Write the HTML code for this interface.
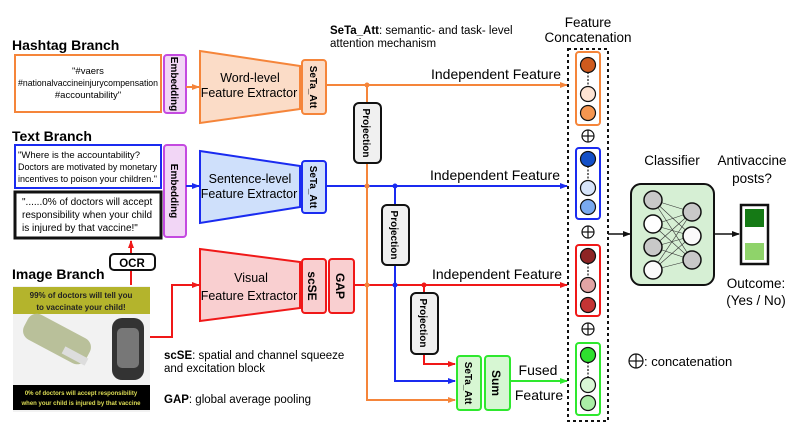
<!DOCTYPE html>
<html><head><meta charset="utf-8"><style>
body{margin:0;background:#fff}
svg{display:block;font-family:"Liberation Sans",sans-serif}
</style></head><body>
<svg width="800" height="431" viewBox="0 0 800 431" xmlns="http://www.w3.org/2000/svg">
<defs>
<marker id="ao" markerWidth="8" markerHeight="8" refX="7" refY="4" orient="auto" markerUnits="userSpaceOnUse"><path d="M0,1 L8,4 L0,7 z" fill="#f5853a"/></marker>
<marker id="ab" markerWidth="8" markerHeight="8" refX="7" refY="4" orient="auto" markerUnits="userSpaceOnUse"><path d="M0,1 L8,4 L0,7 z" fill="#1a2bf0"/></marker>
<marker id="ar" markerWidth="8" markerHeight="8" refX="7" refY="4" orient="auto" markerUnits="userSpaceOnUse"><path d="M0,1 L8,4 L0,7 z" fill="#f01818"/></marker>
<marker id="ag" markerWidth="8" markerHeight="8" refX="7" refY="4" orient="auto" markerUnits="userSpaceOnUse"><path d="M0,1 L8,4 L0,7 z" fill="#2ee82e"/></marker>
<marker id="ak" markerWidth="8" markerHeight="8" refX="7" refY="4" orient="auto" markerUnits="userSpaceOnUse"><path d="M0,1 L8,4 L0,7 z" fill="#111"/></marker>
</defs>

<text x="12" y="50" font-size="14" font-weight="bold">Hashtag Branch</text>
<text x="12" y="141" font-size="14" font-weight="bold">Text Branch</text>
<text x="12" y="279" font-size="14" font-weight="bold">Image Branch</text>

<rect x="15" y="55" width="146" height="57" fill="#fff" stroke="#f5853a" stroke-width="2"/>
<text font-size="9.5" text-anchor="middle"><tspan x="88" y="74">"#vaers</tspan><tspan x="88" y="86" textLength="140" lengthAdjust="spacingAndGlyphs">#nationalvaccineinjurycompensation</tspan><tspan x="88" y="98">#accountability"</tspan></text>
<rect x="164" y="55" width="22" height="58" rx="3" fill="#f2d6f6" stroke="#c44ae0" stroke-width="2"/>
<text transform="translate(171,84) rotate(90)" font-size="10" font-weight="bold" text-anchor="middle">Embedding</text>
<line x1="186" y1="87" x2="199" y2="87" stroke="#f5853a" stroke-width="2" marker-end="url(#ao)"/>
<polygon points="200,51 300,66 300,109 200,123" fill="#fbdcc7" stroke="#f5853a" stroke-width="2"/>
<text font-size="12.5" text-anchor="middle"><tspan x="250" y="82">Word-level</tspan><tspan x="249" y="97">Feature Extractor</tspan></text>
<rect x="302" y="60" width="24" height="54" rx="3" fill="#fbdcc7" stroke="#f5853a" stroke-width="2"/>
<text transform="translate(310,87) rotate(90)" font-size="10" font-weight="bold" text-anchor="middle">SeTa_Att</text>

<rect x="15" y="145" width="146" height="43" fill="#fff" stroke="#1a2bf0" stroke-width="2"/>
<text font-size="9.5"><tspan x="18" y="158" textLength="122" lengthAdjust="spacingAndGlyphs">"Where is the accountability?</tspan><tspan x="18" y="170" textLength="139" lengthAdjust="spacingAndGlyphs">Doctors are motivated by monetary</tspan><tspan x="18" y="182" textLength="139" lengthAdjust="spacingAndGlyphs">incentives to poison your children."</tspan></text>
<rect x="15" y="192" width="146" height="46" fill="#fff" stroke="#111" stroke-width="3"/>
<text font-size="10"><tspan x="22" y="205">"......0% of doctors will accept</tspan><tspan x="22" y="218">responsibility when your child</tspan><tspan x="22" y="231">is injured by that vaccine!"</tspan></text>
<rect x="164" y="145" width="22" height="92" rx="3" fill="#f2d6f6" stroke="#c44ae0" stroke-width="2"/>
<text transform="translate(171,191) rotate(90)" font-size="10" font-weight="bold" text-anchor="middle">Embedding</text>
<line x1="186" y1="186" x2="199" y2="186" stroke="#1a2bf0" stroke-width="2" marker-end="url(#ab)"/>
<polygon points="200,151 300,166 300,207 200,223" fill="#cfe0fb" stroke="#1a2bf0" stroke-width="2"/>
<text font-size="12.5" text-anchor="middle"><tspan x="250" y="183">Sentence-level</tspan><tspan x="249" y="198">Feature Extractor</tspan></text>
<rect x="302" y="161" width="24" height="52" rx="3" fill="#cfe0fb" stroke="#1a2bf0" stroke-width="2"/>
<text transform="translate(310,187) rotate(90)" font-size="10" font-weight="bold" text-anchor="middle">SeTa_Att</text>

<line x1="131" y1="285" x2="131" y2="241" stroke="#f01818" stroke-width="2" marker-end="url(#ar)"/>
<rect x="110" y="254" width="45" height="16" rx="4" fill="#fff" stroke="#111" stroke-width="2"/>
<text x="132" y="267" font-size="11.5" font-weight="bold" text-anchor="middle">OCR</text>

<rect x="13" y="286" width="137" height="126" fill="#f2f2f2"/>
<rect x="13" y="287" width="137" height="27" fill="#b4b42c"/>
<text font-size="8" font-weight="bold" text-anchor="middle" fill="#222"><tspan x="81" y="298">99% of doctors will tell you</tspan><tspan x="81" y="310">to vaccinate your child!</tspan></text>
<rect x="22" y="325" width="70" height="28" rx="10" fill="#b9c09a" transform="rotate(28 57 339)"/>
<rect x="62" y="352" width="26" height="8" fill="#ddd" transform="rotate(28 75 356)"/>
<rect x="112" y="318" width="32" height="62" rx="10" fill="#333"/>
<rect x="117" y="328" width="22" height="40" rx="5" fill="#777"/>
<rect x="13" y="385" width="137" height="25" fill="#000"/>
<text font-size="6" font-weight="bold" text-anchor="middle" fill="#dddd55"><tspan x="81" y="395">0% of doctors will accept responsibility</tspan><tspan x="81" y="405">when your child is injured by that vaccine</tspan></text>
<polyline points="150,337 172,337 172,285 199,285" fill="none" stroke="#f01818" stroke-width="2" marker-end="url(#ar)"/>

<polygon points="200,249 300,262 300,308 200,321" fill="#f9cfd0" stroke="#f01818" stroke-width="2"/>
<text font-size="12.5" text-anchor="middle"><tspan x="251" y="282">Visual</tspan><tspan x="249" y="300">Feature Extractor</tspan></text>
<rect x="302" y="259" width="24" height="54" rx="3" fill="#f9cfd0" stroke="#f01818" stroke-width="2"/>
<text transform="translate(308,286) rotate(90)" font-size="12" font-weight="bold" text-anchor="middle">scSE</text>
<rect x="329" y="259" width="25" height="54" rx="3" fill="#f9cfd0" stroke="#f01818" stroke-width="2"/>
<text transform="translate(336,286) rotate(90)" font-size="12" font-weight="bold" text-anchor="middle">GAP</text>

<text font-size="11.5"><tspan x="164" y="359"><tspan font-weight="bold">scSE</tspan>: spatial and channel squeeze</tspan><tspan x="164" y="372">and excitation block</tspan><tspan x="164" y="403"><tspan font-weight="bold">GAP</tspan>: global average pooling</tspan></text>
<text font-size="11.5"><tspan x="330" y="34"><tspan font-weight="bold">SeTa_Att</tspan>: semantic- and task- level</tspan><tspan x="330" y="47">attention mechanism</tspan></text>

<line x1="326" y1="85" x2="567" y2="85" stroke="#f5853a" stroke-width="2" marker-end="url(#ao)"/>
<line x1="326" y1="186" x2="567" y2="186" stroke="#1a2bf0" stroke-width="2" marker-end="url(#ab)"/>
<line x1="354" y1="285" x2="567" y2="285" stroke="#f01818" stroke-width="2" marker-end="url(#ar)"/>
<text font-size="14" text-anchor="end"><tspan x="561" y="79">Independent Feature</tspan><tspan x="560" y="180">Independent Feature</tspan><tspan x="562" y="279">Independent Feature</tspan></text>

<polyline points="367,85 367,400 455,400" fill="none" stroke="#f5853a" stroke-width="2" marker-end="url(#ao)"/>
<polyline points="395,186 395,381 455,381" fill="none" stroke="#1a2bf0" stroke-width="2" marker-end="url(#ab)"/>
<polyline points="424,285 424,364 455,364" fill="none" stroke="#f01818" stroke-width="2" marker-end="url(#ar)"/>
<circle cx="367" cy="85" r="2.5" fill="#f5853a"/><circle cx="367" cy="186" r="2.5" fill="#f5853a"/><circle cx="367" cy="285" r="2.5" fill="#f5853a"/>
<circle cx="395" cy="186" r="2.5" fill="#1a2bf0"/><circle cx="395" cy="285" r="2.5" fill="#1a2bf0"/>
<circle cx="424" cy="285" r="2.5" fill="#f01818"/>

<rect x="354" y="103" width="27" height="60" rx="5" fill="#f0f0f0" stroke="#111" stroke-width="2"/>
<text transform="translate(363,133) rotate(90)" font-size="10" font-weight="bold" text-anchor="middle">Projection</text>
<rect x="382" y="205" width="27" height="60" rx="5" fill="#f0f0f0" stroke="#111" stroke-width="2"/>
<text transform="translate(391,235) rotate(90)" font-size="10" font-weight="bold" text-anchor="middle">Projection</text>
<rect x="411" y="293" width="27" height="61" rx="5" fill="#f0f0f0" stroke="#111" stroke-width="2"/>
<text transform="translate(420,323) rotate(90)" font-size="10" font-weight="bold" text-anchor="middle">Projection</text>

<rect x="457" y="356" width="24" height="54" rx="3" fill="#d7f7d3" stroke="#2ee82e" stroke-width="2"/>
<text transform="translate(465,383) rotate(90)" font-size="10" font-weight="bold" text-anchor="middle">SeTa_Att</text>
<rect x="485" y="356" width="25" height="54" rx="3" fill="#d7f7d3" stroke="#2ee82e" stroke-width="2"/>
<text transform="translate(492,383) rotate(90)" font-size="12" font-weight="bold" text-anchor="middle">Sum</text>
<line x1="510" y1="381" x2="567" y2="381" stroke="#2ee82e" stroke-width="2" marker-end="url(#ag)"/>
<text font-size="14" text-anchor="middle"><tspan x="538" y="375">Fused</tspan><tspan x="539" y="400">Feature</tspan></text>

<text font-size="13.5" text-anchor="middle"><tspan x="588" y="27">Feature</tspan><tspan x="588" y="42">Concatenation</tspan></text>
<rect x="568" y="49" width="40" height="372" fill="none" stroke="#111" stroke-width="2" stroke-dasharray="3,3"/>
<g stroke="#111" stroke-width="1.2">
<rect x="576" y="52" width="24" height="73" rx="3" fill="#fff" stroke="#f5853a" stroke-width="2"/>
<line x1="588" y1="65" x2="588" y2="94" stroke-dasharray="2,1.5"/>
<circle cx="588" cy="65" r="7.5" fill="#cf5a1d"/><circle cx="588" cy="94" r="7.5" fill="#fde3d3"/><circle cx="588" cy="113" r="7.5" fill="#f59650"/>
<rect x="576" y="148" width="24" height="71" rx="3" fill="#fff" stroke="#1a2bf0" stroke-width="2"/>
<line x1="588" y1="159" x2="588" y2="188" stroke-dasharray="2,1.5"/>
<circle cx="588" cy="159" r="7.5" fill="#1450c8"/><circle cx="588" cy="188" r="7.5" fill="#d6e4fa"/><circle cx="588" cy="207" r="7.5" fill="#79a9ef"/>
<rect x="576" y="245" width="24" height="71" rx="3" fill="#fff" stroke="#f01818" stroke-width="2"/>
<line x1="588" y1="256" x2="588" y2="285" stroke-dasharray="2,1.5"/>
<circle cx="588" cy="256" r="7.5" fill="#8e2424"/><circle cx="588" cy="285" r="7.5" fill="#e2a4a4"/><circle cx="588" cy="305" r="7.5" fill="#c43434"/>
<rect x="576" y="343" width="24" height="72" rx="3" fill="#fff" stroke="#2ee82e" stroke-width="2"/>
<line x1="588" y1="355" x2="588" y2="385" stroke-dasharray="2,1.5"/>
<circle cx="588" cy="355" r="7.5" fill="#2ee02e"/><circle cx="588" cy="385" r="7.5" fill="#d9f7d6"/><circle cx="588" cy="403" r="7.5" fill="#aaeea6"/>
<g fill="none"><circle cx="588" cy="136" r="6"/><line x1="582" y1="136" x2="594" y2="136"/><line x1="588" y1="130" x2="588" y2="142"/>
<circle cx="588" cy="232" r="6"/><line x1="582" y1="232" x2="594" y2="232"/><line x1="588" y1="226" x2="588" y2="238"/>
<circle cx="588" cy="329" r="6"/><line x1="582" y1="329" x2="594" y2="329"/><line x1="588" y1="323" x2="588" y2="335"/>
<circle cx="636" cy="361" r="7"/><line x1="629" y1="361" x2="643" y2="361"/><line x1="636" y1="354" x2="636" y2="368"/></g>
</g>
<text x="644" y="366" font-size="13">: concatenation</text>

<line x1="608" y1="234" x2="630" y2="234" stroke="#111" stroke-width="1.5" marker-end="url(#ak)"/>
<rect x="631" y="184" width="83" height="101" rx="10" fill="#d6efd4" stroke="#111" stroke-width="2"/>
<g stroke="#333" stroke-width="0.6">
<line x1="653" y1="200" x2="692" y2="212"/><line x1="653" y1="200" x2="692" y2="236"/><line x1="653" y1="200" x2="692" y2="260"/>
<line x1="653" y1="225" x2="692" y2="212"/><line x1="653" y1="225" x2="692" y2="236"/><line x1="653" y1="225" x2="692" y2="260"/>
<line x1="653" y1="247" x2="692" y2="212"/><line x1="653" y1="247" x2="692" y2="236"/><line x1="653" y1="247" x2="692" y2="260"/>
<line x1="653" y1="270" x2="692" y2="212"/><line x1="653" y1="270" x2="692" y2="236"/><line x1="653" y1="270" x2="692" y2="260"/>
</g>
<g stroke="#111" stroke-width="1.5">
<circle cx="653" cy="200" r="9" fill="#c8c8c8"/><circle cx="653" cy="224" r="9" fill="#fff"/><circle cx="653" cy="247" r="9" fill="#c8c8c8"/><circle cx="653" cy="270" r="9" fill="#fafafa"/>
<circle cx="692" cy="212" r="9" fill="#c8c8c8"/><circle cx="692" cy="236" r="9" fill="#fafafa"/><circle cx="692" cy="260" r="9" fill="#c8c8c8"/>
</g>
<line x1="714" y1="234" x2="739" y2="234" stroke="#111" stroke-width="1.5" marker-end="url(#ak)"/>
<rect x="741" y="205" width="27" height="59" fill="#fff" stroke="#111" stroke-width="2.5"/>
<rect x="745" y="209" width="19" height="18" fill="#157a15"/>
<rect x="745" y="243" width="19" height="17" fill="#8fd36a"/>
<text font-size="13.5" text-anchor="middle"><tspan x="672" y="165">Classifier</tspan><tspan x="752" y="165">Antivaccine</tspan><tspan x="752" y="183">posts?</tspan><tspan x="756" y="288">Outcome:</tspan><tspan x="756" y="305">(Yes / No)</tspan></text>
</svg>
</body></html>
